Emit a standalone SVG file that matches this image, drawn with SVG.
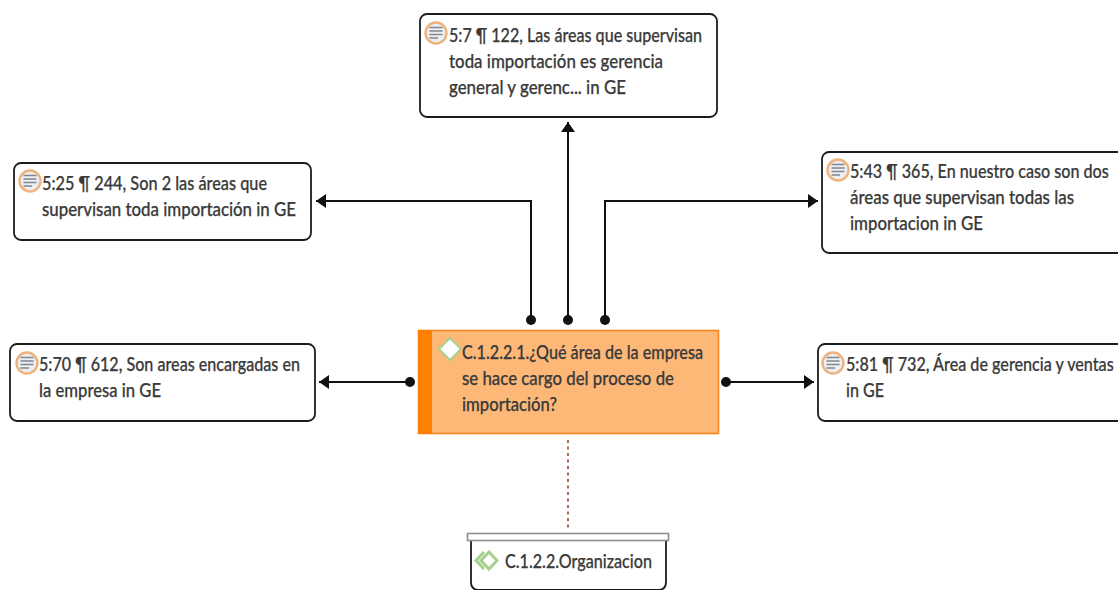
<svg xmlns="http://www.w3.org/2000/svg" width="1118" height="590" viewBox="0 0 1118 590">
<style>
.box{fill:#fff;stroke:#1c1c1c;stroke-width:1.8}
text{font-family:"Lato","Open Sans","Liberation Sans",sans-serif;font-size:19px;fill:#3a3a3a;font-weight:500;stroke:#3a3a3a;stroke-width:.25}
.ico{fill:#eceef1;stroke:#eeb27c;stroke-width:2.4}
.l{stroke:#7f8791;stroke-width:1.7}
.c{fill:none;stroke:#111;stroke-width:2}
</style>
<defs>
<marker id="ah" markerUnits="userSpaceOnUse" markerWidth="12" markerHeight="16" refX="10" refY="7" orient="auto"><path d="M0 0L10 7L0 14Z" fill="#111"/></marker>
<g id="qi"><circle cx="0" cy="0" r="10.500" class="ico"/><path class="l" d="M-6.500-5.500H6.500M-6.500-2H6.500M-6.500 1.500H6.500M-6.500 5H2"/></g>
</defs>
<g id="connectors">
<path class="c" d="M531 320V201H316" marker-end="url(#ah)"/>
<path class="c" d="M568 320V122" marker-end="url(#ah)"/>
<path class="c" d="M605 320V201H818" marker-end="url(#ah)"/>
<path class="c" d="M410 382H319" marker-end="url(#ah)"/>
<path class="c" d="M726 382H814" marker-end="url(#ah)"/>
<g fill="#111"><circle cx="531" cy="320" r="5"/><circle cx="568" cy="320" r="5"/><circle cx="605" cy="320" r="5"/><circle cx="410" cy="382" r="5"/><circle cx="726" cy="382" r="5"/></g>
<path d="M568 440V531" fill="none" stroke="#a83a32" stroke-width="1.600" stroke-dasharray="3 3.500"/>
</g>
<g id="n-top">
<rect class="box" x="420" y="14" width="297" height="103" rx="7"/>
<use href="#qi" x="436" y="33"/>
<text x="449" y="42" textLength="253" lengthAdjust="spacingAndGlyphs">5:7 ¶ 122, Las áreas que supervisan</text>
<text x="449" y="68" textLength="214" lengthAdjust="spacingAndGlyphs">toda importación es gerencia</text>
<text x="449" y="94" textLength="177" lengthAdjust="spacingAndGlyphs">general y gerenc... in GE</text>
</g>
<g id="n-left-up">
<rect class="box" x="14" y="163" width="297" height="77" rx="7"/>
<use href="#qi" x="30" y="181"/>
<text x="42" y="190" textLength="225" lengthAdjust="spacingAndGlyphs">5:25 ¶ 244, Son 2 las áreas que</text>
<text x="42" y="216" textLength="254" lengthAdjust="spacingAndGlyphs">supervisan toda importación in GE</text>
</g>
<g id="n-right-up">
<rect class="box" x="822" y="152" width="310" height="101" rx="7"/>
<use href="#qi" x="838" y="170"/>
<text transform="translate(850 178) scale(.85 1)">5:43 ¶ 365, En nuestro caso son dos</text>
<text x="850" y="204" textLength="224" lengthAdjust="spacingAndGlyphs">áreas que supervisan todas las</text>
<text x="850" y="230" textLength="133" lengthAdjust="spacingAndGlyphs">importacion in GE</text>
</g>
<g id="n-left-low">
<rect class="box" x="10" y="344" width="305" height="77" rx="7"/>
<use href="#qi" x="27" y="363"/>
<text x="39" y="371" textLength="261" lengthAdjust="spacingAndGlyphs">5:70 ¶ 612, Son areas encargadas en</text>
<text x="39" y="397" textLength="122" lengthAdjust="spacingAndGlyphs">la empresa in GE</text>
</g>
<g id="n-right-low">
<rect class="box" x="818" y="344" width="314" height="77" rx="7"/>
<use href="#qi" x="833" y="363"/>
<text transform="translate(846 371) scale(.85 1)">5:81 ¶ 732, Área de gerencia y ventas</text>
<text x="846" y="397" textLength="38" lengthAdjust="spacingAndGlyphs">in GE</text>
</g>
<g id="n-center">
<rect x="418.500" y="330.500" width="300" height="103" fill="#fdb878" stroke="#f5851f" stroke-width="1.600"/>
<rect x="418" y="330" width="14" height="104" fill="#ff7f00"/>
<path d="M450 338L461 349L450 360L439 349Z" fill="#fff" stroke="#a8d08d" stroke-width="2"/>
<text x="462" y="359" textLength="241" lengthAdjust="spacingAndGlyphs">C.1.2.2.1.¿Qué área de la empresa</text>
<text x="462" y="385" textLength="212" lengthAdjust="spacingAndGlyphs">se hace cargo del proceso de</text>
<text x="462" y="411" textLength="95" lengthAdjust="spacingAndGlyphs">importación?</text>
</g>
<g id="n-bottom">
<path class="box" d="M471 541V582Q471 590 479 590H658Q666 590 666 582V541"/>
<rect x="467.500" y="533.500" width="201" height="7" fill="#fff" stroke="#8f8f8f" stroke-width="1.600"/>
<path d="M484 552L476 560.500L484 569M489 552L497 560.500L489 569L481 560.500Z" fill="none" stroke="#a8d08d" stroke-width="3"/>
<text x="505" y="568" textLength="147" lengthAdjust="spacingAndGlyphs">C.1.2.2.Organizacion</text>
</g>
</svg>
